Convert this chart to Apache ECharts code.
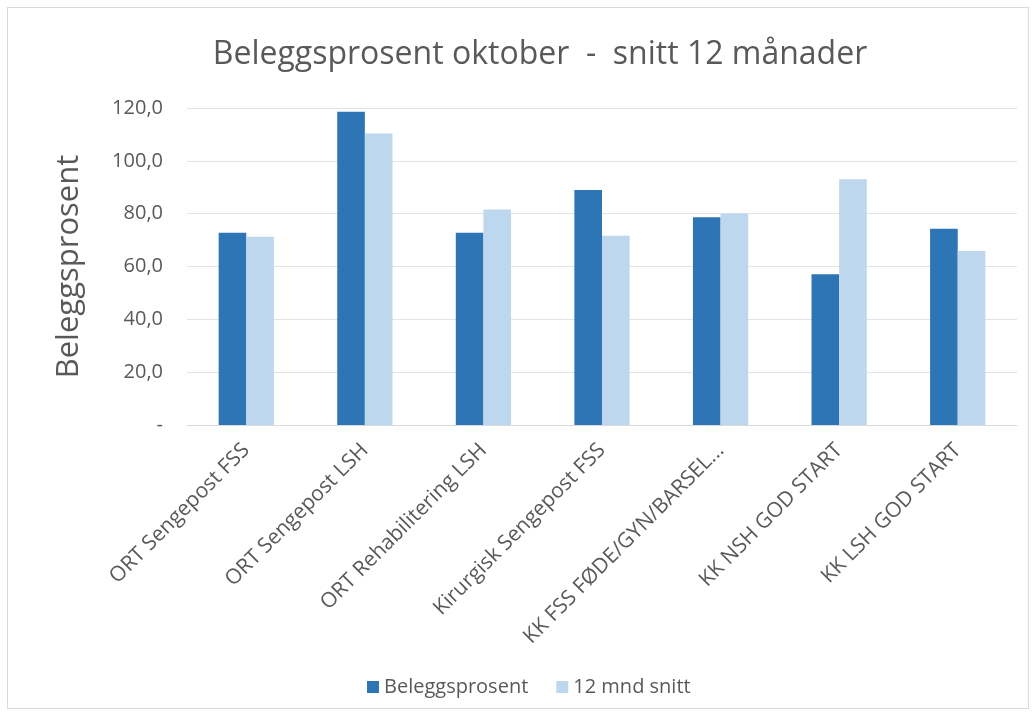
<!DOCTYPE html>
<html>
<head>
<meta charset="utf-8">
<script src="https://cdn.jsdelivr.net/npm/echarts@6/dist/echarts.min.js"></script>
<style>
  html, body { margin: 0; padding: 0; background: #fff; }
  #wrap { position: absolute; left: 7px; top: 7px; width: 1022px; height: 702px; border: 1px solid #d9d9d9; box-sizing: border-box; }
  #main { width: 1032px; height: 718px; position: absolute; left: 0; top: 0; }
</style>
</head>
<body>
<div id="wrap"></div>
<div id="main"></div>
<script>
  // kategoriar
  var categories = ['ORT Sengepost FSS', 'ORT Sengepost LSH', 'ORT Rehabilitering LSH',
    'Kirurgisk Sengepost FSS', 'KK FSS FØDE/GYN/BARSEL...', 'KK NSH GOD START', 'KK LSH GOD START'];
  var beleggsprosent = [72.8, 118.6, 72.8, 89.0, 78.6, 57.1, 74.3];
  var snitt12 = [71.3, 110.3, 81.6, 71.6, 80.1, 93.0, 65.9];
  var yTicks = [0, 20, 40, 60, 80, 100, 120];

  var font = "'Open Sans', 'Noto Sans', sans-serif";
  var myChart = echarts.init(document.getElementById('main'));
  myChart.setOption({
    animation: false,
    color: ['#2E75B6', '#BDD7EE'],
    textStyle: { fontFamily: font },
    title: {
      text: 'Beleggsprosent oktober  -  snitt 12 månader',
      left: 535,
      textAlign: 'center',
      top: 34,
      textStyle: { fontFamily: font, fontWeight: 'normal', fontSize: 32, color: '#595959' }
    },
    legend: {
      bottom: 16,
      left: 362,
      itemWidth: 12,
      itemHeight: 12,
      itemGap: 28,
      icon: 'rect',
      textStyle: { fontSize: 20, color: '#595959' },
      data: ['Beleggsprosent', '12 mnd snitt']
    },
    grid: { left: 187, right: 15, top: 108, bottom: 293 },
    xAxis: {
      type: 'category',
      data: categories,
      axisTick: { show: false },
      axisLine: { lineStyle: { color: '#d9d9d9' } },
      axisLabel: {
        rotate: 45,
        interval: 0,
        margin: 22,
        fontSize: 21,
        color: '#595959'
      }
    },
    yAxis: {
      type: 'value',
      min: yTicks[0],
      max: yTicks[yTicks.length - 1],
      interval: 20,
      name: 'Beleggsprosent',
      nameLocation: 'middle',
      nameGap: 102,
      nameTextStyle: { fontSize: 31, color: '#595959' },
      axisLine: { show: false },
      axisTick: { show: false },
      splitLine: { lineStyle: { color: '#e3e3e3' } },
      axisLabel: {
        fontSize: 20,
        color: '#595959',
        margin: 24,
        formatter: function (v) {
          return v === 0 ? '-' : v.toFixed(1).replace('.', ',');
        }
      }
    },
    series: [
      { name: 'Beleggsprosent', type: 'bar', data: beleggsprosent, barWidth: '23.3%', barGap: '0%' },
      { name: '12 mnd snitt', type: 'bar', data: snitt12, barWidth: '23.3%' }
    ]
  });
</script>
</body>
</html>
